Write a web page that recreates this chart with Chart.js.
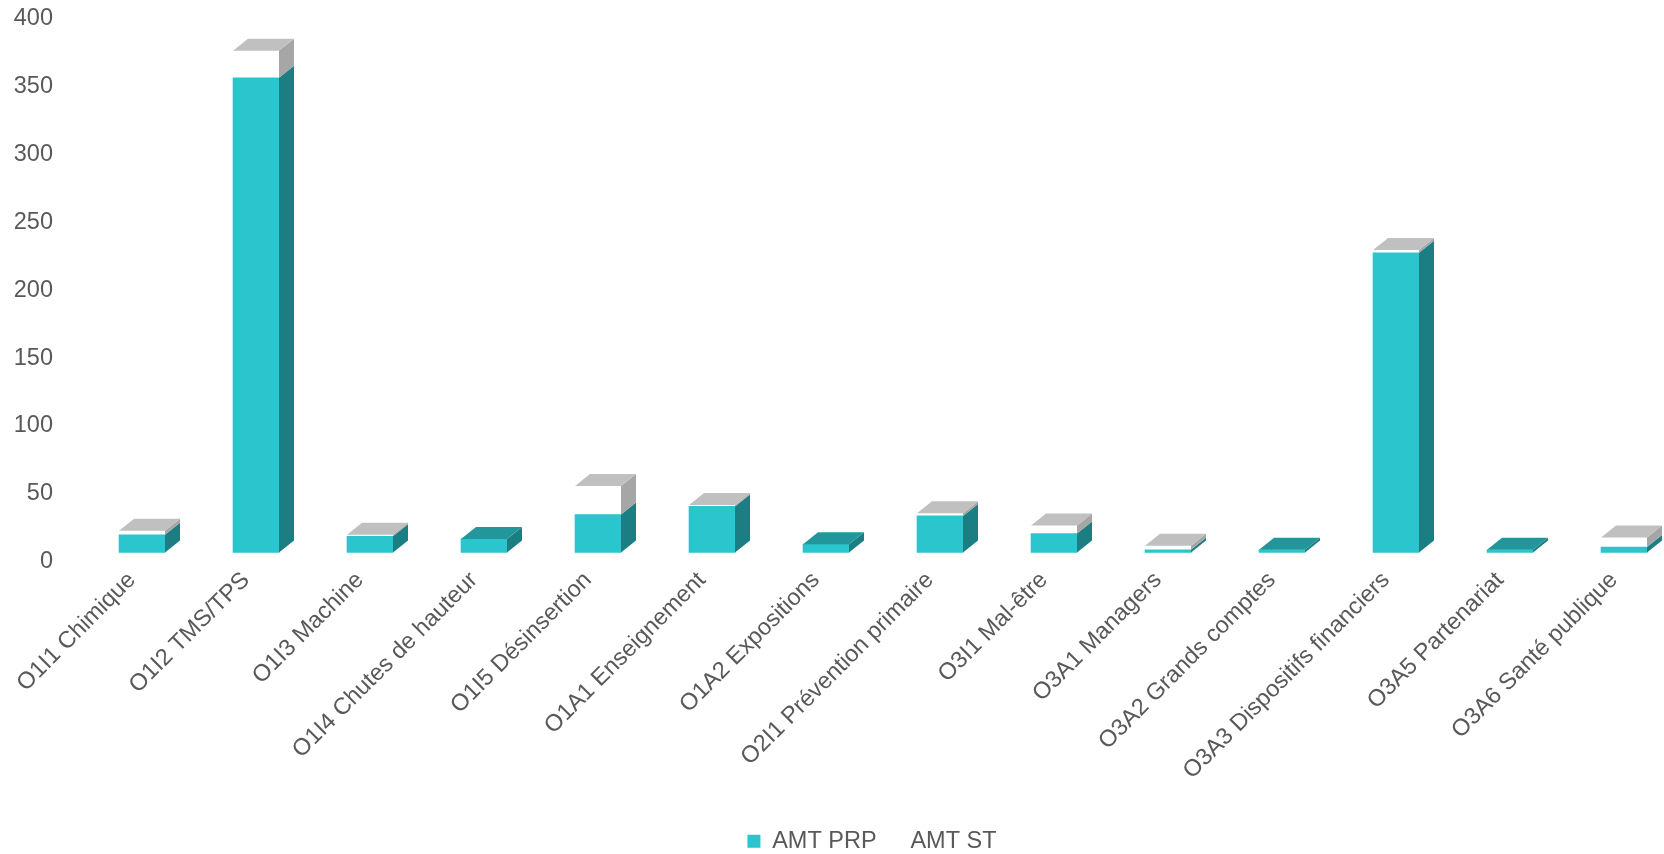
<!DOCTYPE html>
<html>
<head>
<meta charset="utf-8">
<script src="https://cdn.jsdelivr.net/npm/chart.js@4.4.0/dist/chart.umd.min.js"></script>
<style>
  html, body { margin: 0; padding: 0; background: #fff; }
  #wrap { width: 1664px; height: 854px; }
</style>
</head>
<body>
<div id="wrap"><canvas id="chart"></canvas></div>
<script>
// données
const categories = [
    'O1I1 Chimique', 'O1I2 TMS/TPS', 'O1I3 Machine', 'O1I4 Chutes de hauteur',
    'O1I5 Désinsertion', 'O1A1 Enseignement', 'O1A2 Expositions', 'O2I1 Prévention primaire',
    'O3I1 Mal-être', 'O3A1 Managers', 'O3A2 Grands comptes', 'O3A3 Dispositifs financiers',
    'O3A5 Partenariat', 'O3A6 Santé publique'
];
const amtPrp = [13, 350, 12, 10, 28, 34, 6, 27, 14, 2, 2, 221, 2, 4];
const amtSt  = [3, 20, 1, 0, 21, 1, 0, 2, 6, 3, 0, 2, 0, 7];
const yMin = 0, yMax = 400, yStep = 50;

// couleurs
const teal = '#2BC5CD', tealSide = '#1B7E82', tealTop = '#21979B';
const greyTop = '#C0C0C0', greySide = '#A6A6A6';
const depthX = 15, depthY = 12;

function side(ctx, x, yBottom, yTop, color) {
    ctx.fillStyle = color;
    ctx.beginPath();
    ctx.moveTo(x, yBottom);
    ctx.lineTo(x + depthX, yBottom - depthY);
    ctx.lineTo(x + depthX, yTop - depthY);
    ctx.lineTo(x, yTop);
    ctx.closePath();
    ctx.fill();
}

// faces latérales et dessus pour l'effet 3D
const bars3d = {
    id: 'bars3d',
    afterDatasetsDraw(chart) {
        const ctx = chart.ctx;
        const prp = chart.getDatasetMeta(0).data;
        const st = chart.getDatasetMeta(1).data;
        ctx.save();
        prp.forEach((bar, i) => {
            const half = bar.width / 2;
            const left = bar.x - half, right = bar.x + half;
            side(ctx, right, bar.base, bar.y, tealSide);
            let yTop = bar.y, topColor = tealTop;
            if (amtSt[i] > 0) {
                side(ctx, right, st[i].base, st[i].y, greySide);
                yTop = st[i].y;
                topColor = greyTop;
            }
            ctx.fillStyle = topColor;
            ctx.beginPath();
            ctx.moveTo(left, yTop);
            ctx.lineTo(left + depthX, yTop - depthY);
            ctx.lineTo(right + depthX, yTop - depthY);
            ctx.lineTo(right, yTop);
            ctx.closePath();
            ctx.fill();
        });
        ctx.restore();
    }
};

// décale la légende comme dans l'original
const legendShift = {
    id: 'legendShift',
    afterLayout(chart) {
        const lg = chart.legend;
        lg.left += 60; lg.right += 60;
        lg.top += 9; lg.bottom += 9;
    }
};

Chart.defaults.font.family = "'Liberation Sans', Arial, sans-serif";
Chart.defaults.font.size = 23.5;
Chart.defaults.color = '#595959';

const ctx = document.getElementById('chart').getContext('2d');
new Chart(ctx, {
    type: 'bar',
    data: {
        labels: categories,
        datasets: [
            { label: 'AMT PRP', data: amtPrp, backgroundColor: teal, borderWidth: 0 },
            { label: 'AMT ST', data: amtSt, backgroundColor: '#FFFFFF', borderWidth: 0 }
        ]
    },
    options: {
        responsive: true,
        maintainAspectRatio: false,
        animation: false,
        layout: { padding: { top: 10, right: 40, left: 0, bottom: 0 } },
        datasets: { bar: { barThickness: 46, clip: false } },
        scales: {
            x: {
                stacked: true,
                offset: false,
                grid: { display: false, drawTicks: false },
                border: { display: false },
                ticks: { minRotation: 45, maxRotation: 45, padding: 14, labelOffset: -10, autoSkip: false },
                afterFit: (scale) => { scale.height = 259; }
            },
            y: {
                stacked: true,
                min: yMin,
                max: yMax,
                grid: { display: false, drawTicks: false },
                border: { display: false },
                ticks: { stepSize: yStep, padding: 89, labelOffset: 9, font: { lineHeight: 1 } },
                afterFit: (scale) => {
                    scale.width = 142;
                    scale.paddingTop = 0;
                    scale.paddingBottom = 0;
                }
            }
        },
        plugins: {
            legend: {
                position: 'bottom',
                labels: { boxWidth: 13, boxHeight: 13, padding: 9 }
            },
            tooltip: { enabled: false }
        }
    },
    plugins: [bars3d, legendShift]
});
</script>
</body>
</html>
